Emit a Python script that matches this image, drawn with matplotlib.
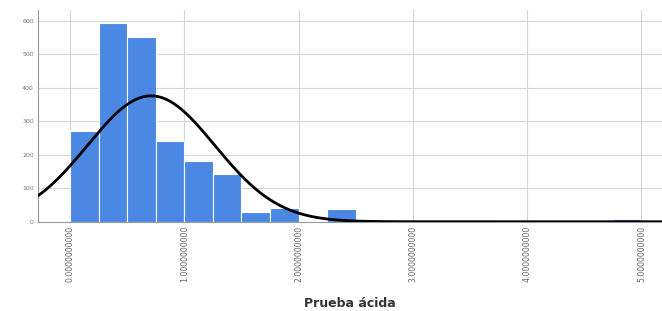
import numpy as np
import matplotlib
matplotlib.use('Agg')
import matplotlib.pyplot as plt

# Bordes de los intervalos (ancho 0.25) y frecuencias
bin_edges = np.arange(0, 5.25, 0.25)
frecuencias = [272, 594, 552, 241, 181, 141, 30, 40, 0, 38,
               0, 0, 0, 0, 0, 0, 0, 0, 0, 9]

# Parametros de la curva normal
media = 0.71
desv = 0.557

x_ticks = [0, 1, 2, 3, 4, 5]
x_ticklabels = ['%.10f' % v for v in x_ticks]
y_ticks = [0, 100, 200, 300, 400, 500, 600]

fig = plt.figure(figsize=(6.62, 3.11), dpi=100)
ax = fig.add_axes([0.0574, 0.287, 0.9426, 0.681])

ancho = bin_edges[1] - bin_edges[0]
ax.bar(bin_edges[:-1], frecuencias, width=ancho, align='edge',
       color='#4A88E4', edgecolor='white', linewidth=0.8, zorder=2)

# Curva normal escalada
xs = np.linspace(-0.3, 5.2, 500)
n = sum(frecuencias)
ys = n * ancho * np.exp(-0.5 * ((xs - media) / desv) ** 2) / (desv * np.sqrt(2 * np.pi))
ax.plot(xs, ys, color='black', linewidth=2, zorder=3)

ax.set_xlim(-0.28, 5.18)
ax.set_ylim(0, 632)
ax.set_xticks(x_ticks)
ax.set_xticklabels(x_ticklabels, rotation=90, fontsize=5.6, color='#666666')
ax.set_yticks(y_ticks)
ax.set_yticklabels([str(v) for v in y_ticks], fontsize=4.5, color='#777777')
ax.tick_params(length=0, pad=3)

ax.grid(True, color='#d6d6d6', linewidth=0.8, zorder=0)
ax.set_axisbelow(True)
for s in ['top', 'right']:
    ax.spines[s].set_visible(False)
ax.spines['left'].set_color('#999999')
ax.spines['bottom'].set_color('#999999')

ax.set_xlabel('Prueba ácida', fontsize=9, fontweight='bold', color='#333333', labelpad=11)

fig.savefig('out.png', dpi=100)
